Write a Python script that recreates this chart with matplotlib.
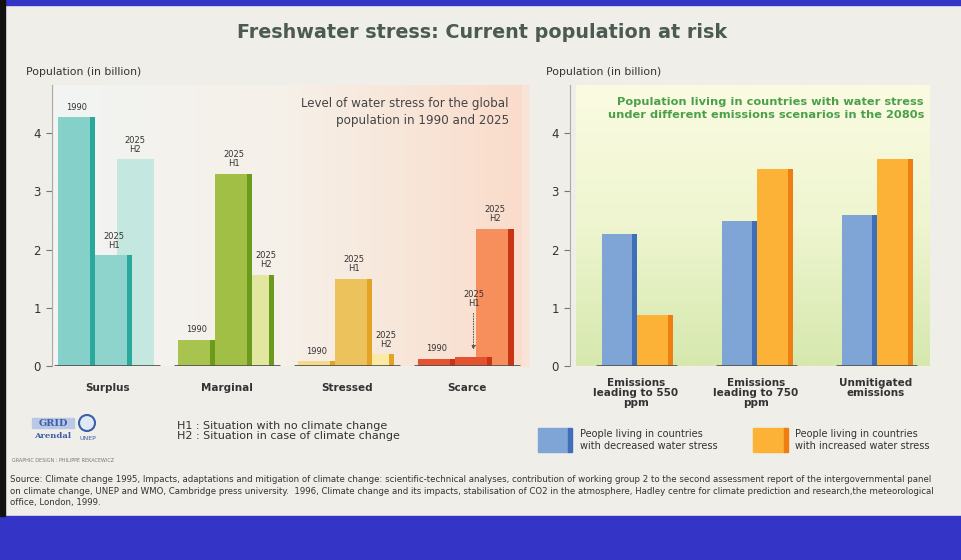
import numpy as np
import matplotlib.pyplot as plt
from matplotlib.patches import Rectangle, Circle
from matplotlib.colors import LinearSegmentedColormap

plt.rcParams['font.family'] = ['DejaVu Sans']

# left chart data (billion people)
classes = ['Surplus', 'Marginal', 'Stressed', 'Scarce']
pop_1990 = [4.27, 0.45, 0.08, 0.12]
pop_2025_h1 = [1.9, 3.3, 1.5, 0.15]
pop_2025_h2 = [3.55, 1.57, 0.2, 2.35]

# right chart data
scenarios = ['Emissions\nleading to 550\nppm', 'Emissions\nleading to 750\nppm', 'Unmitigated\nemissions']
decreased = [2.27, 2.5, 2.6]
increased = [0.87, 3.38, 3.55]

yticks = [0, 1, 2, 3, 4]

# colours per class: (1990, H1, H2, side)
cols = {
    'Surplus': ('#86d0ca', '#8fd3cd', '#c4e8e0', '#2aa89c'),
    'Marginal': ('#a9c44e', '#a1bf45', '#e2e7a0', '#6c9a1c'),
    'Stressed': ('#f6d98a', '#ecc25d', '#fbeaa4', '#e4a323'),
    'Scarce': ('#e5522f', '#e5522f', '#f78f5c', '#c83414'),
}

W, H = 962, 560
fig = plt.figure(figsize=(W / 100, H / 100), dpi=100)
fig.patch.set_facecolor('#efeee9')

# frame strips, drawn in pixel coords
bg = fig.add_axes([0, 0, 1, 1], zorder=-10)
bg.set_xlim(0, W)
bg.set_ylim(H, 0)
bg.axis('off')
bg.add_patch(Rectangle((0, 0), W, 5, color='#3434c6'))
bg.add_patch(Rectangle((0, 516), W, 44, color='#3434c6'))
bg.add_patch(Rectangle((0, 0), 5, 516, color='#111111'))
bg.add_patch(Rectangle((520, 85), 8, 281, color='#f9e2d6'))


def px_axes(x0, x1, y0, y1, **kw):
    return fig.add_axes([x0 / W, 1 - y1 / H, (x1 - x0) / W, (y1 - y0) / H], **kw)


def bar3d(ax, left, height, width, face, side, z):
    ax.bar(left, height, width, align='edge', color=face, zorder=z, linewidth=0)
    ax.bar(left + width * 0.86, height, width * 0.14, align='edge', color=side, zorder=z + 0.1, linewidth=0)


ylim = (0, (366 - 85) / 58.2)

# ---------------- left chart ----------------
axl = px_axes(52, 522, 85, 366)
axl.set_xlim(-0.46, 3.46)
axl.set_ylim(*ylim)
grad = np.linspace(0, 1, 256).reshape(1, -1)
cm_l = LinearSegmentedColormap.from_list('l', ['#f1f5f3', '#f6f0e8', '#fadccb'])
axl.imshow(grad, cmap=cm_l, aspect='auto', extent=(-0.44, 3.46, 0, ylim[1]), zorder=0,
           interpolation='bilinear')

bw = 0.31
lab = dict(fontsize=6, color='#333333', linespacing=1.0)
for i, c in enumerate(classes):
    f90, fh1, fh2, side = cols[c]
    bar3d(axl, i + 0.08, pop_2025_h2[i], bw, fh2, side if c != 'Surplus' else '#c4e8e0', 2)
    bar3d(axl, i - 0.10, pop_2025_h1[i], bw, fh1, side, 3)
    bar3d(axl, i - 0.41, pop_1990[i], bw, f90, side, 4)
    axl.hlines(0, i - 0.44, i + 0.44, color='#555555', lw=2, zorder=5)
    axl.text(i - 0.41 + bw / 2, pop_1990[i] + 0.1, '1990', ha='center', va='bottom', **lab)
    if c == 'Scarce':
        axl.annotate('2025\nH1', xy=(i - 0.10 + bw / 2, pop_2025_h1[i] + 0.08),
                     xytext=(i - 0.10 + bw / 2, 1.0), ha='center', va='bottom',
                     arrowprops=dict(arrowstyle='-|>', color='#555555', lw=0.7, linestyle=':', mutation_scale=6),
                     **lab)
    else:
        axl.text(i - 0.10 + bw / 2, pop_2025_h1[i] + 0.1, '2025\nH1', ha='center', va='bottom', **lab)
    h2x = i + 0.08 + bw / 2 if c in ('Surplus', 'Scarce') else i + 0.08 + bw * 0.8
    axl.text(h2x, pop_2025_h2[i] + 0.1, '2025\nH2', ha='center', va='bottom', **lab)
    axl.text(i, -0.3, c, ha='center', va='top', fontsize=7.5, fontweight='bold', color='#333333')

axl.text(3.35, 4.62, 'Level of water stress for the global\npopulation in 1990 and 2025', ha='right', va='top',
         fontsize=8.6, color='#444444', linespacing=1.35)

# ---------------- right chart ----------------
axr = px_axes(570, 930, 85, 366)
axr.set_xlim(-0.55, 2.45)
axr.set_ylim(*ylim)
cm_r = LinearSegmentedColormap.from_list('r', ['#d6e8ae', '#eef5cf', '#fbfbe2'])
axr.imshow(np.linspace(0, 1, 256).reshape(-1, 1)[::-1], cmap=cm_r, aspect='auto',
           extent=(-0.50, 2.45, 0, ylim[1]), zorder=0, interpolation='bilinear')
for i in range(len(scenarios)):
    bar3d(axr, i - 0.28, decreased[i], 0.29, '#7fa4d6', '#3f6fb8', 3)
    bar3d(axr, i + 0.01, increased[i], 0.30, '#fbb236', '#ee7d12', 3)
    axr.hlines(0, i - 0.33, i + 0.34, color='#555555', lw=2, zorder=5)
    axr.text(i, -0.2, scenarios[i], ha='center', va='top', fontsize=7.5, fontweight='bold',
             color='#333333', linespacing=1.0)

axr.text(2.4, 4.62, 'Population living in countries with water stress\nunder different emissions scenarios in the 2080s',
         ha='right', va='top', fontsize=8.2, fontweight='bold', color='#4aa04a', linespacing=1.35)

for ax in (axl, axr):
    ax.set_yticks(yticks)
    ax.set_xticks([])
    for s in ('top', 'right', 'bottom'):
        ax.spines[s].set_visible(False)
    ax.spines['left'].set_color('#aaaaaa')
    ax.tick_params(axis='y', length=4, color='#777777', labelsize=8.5, labelcolor='#333333', pad=4)
    ax.set_facecolor('none')

fig.text(26 / W, 1 - 72 / H, 'Population (in billion)', fontsize=7.8, color='#333333', va='center')
fig.text(546 / W, 1 - 72 / H, 'Population (in billion)', fontsize=7.8, color='#333333', va='center')

fig.text(482 / W, 1 - 33 / H, 'Freshwater stress: Current population at risk', ha='center', va='center',
         fontsize=13.8, fontweight='bold', color='#4b5a52')

# legend right
bg.add_patch(Rectangle((538, 428), 30, 24, color='#7fa4d6'))
bg.add_patch(Rectangle((568, 428), 4, 24, color='#3f6fb8'))
bg.text(580, 440, 'People living in countries\nwith decreased water stress', fontsize=7, va='center', color='#333333')
bg.add_patch(Rectangle((753, 428), 31, 24, color='#fbb236'))
bg.add_patch(Rectangle((784, 428), 4, 24, color='#ee7d12'))
bg.text(795, 440, 'People living in countries\nwith increased water stress', fontsize=7, va='center', color='#333333')

# H1 / H2 note
bg.text(177, 431, 'H1 : Situation with no climate change\nH2 : Situation in case of climate change',
        fontsize=8, va='center', color='#333333', linespacing=1.05)

# logos
bg.add_patch(Rectangle((32, 418), 42, 10, color='#b9c8e6'))
bg.text(53, 423, 'GRID', ha='center', va='center', fontsize=7, fontweight='bold', color='#3c5fa8', family='DejaVu Serif')
bg.text(53, 436, 'Arendal', ha='center', va='center', fontsize=6, fontweight='bold', color='#3c5fa8', family='DejaVu Serif')
bg.add_patch(Circle((87, 423), 8, facecolor='#dfe8f6', edgecolor='#3c5fa8', lw=1.5))
bg.text(88, 438, 'UNEP', ha='center', va='center', fontsize=4.5, color='#3c5fa8')
bg.text(12, 460, 'GRAPHIC DESIGN : PHILIPPE REKACEWICZ', fontsize=3.5, va='center', color='#777777')

source = ('Source: Climate change 1995, Impacts, adaptations and mitigation of climate change: scientific-technical '
          'analyses, contribution of working group 2 to the second assessment report of the intergovernmental panel\n'
          'on climate change, UNEP and WMO, Cambridge press university.  1996, Climate change and its impacts, '
          'stabilisation of CO2 in the atmosphere, Hadley centre for climate prediction and research,the meteorological\n'
          'office, London, 1999.')
bg.text(10, 491, source, fontsize=6.2, va='center', color='#333333', linespacing=1.3)

fig.savefig('out.png', dpi=100, facecolor=fig.get_facecolor())
